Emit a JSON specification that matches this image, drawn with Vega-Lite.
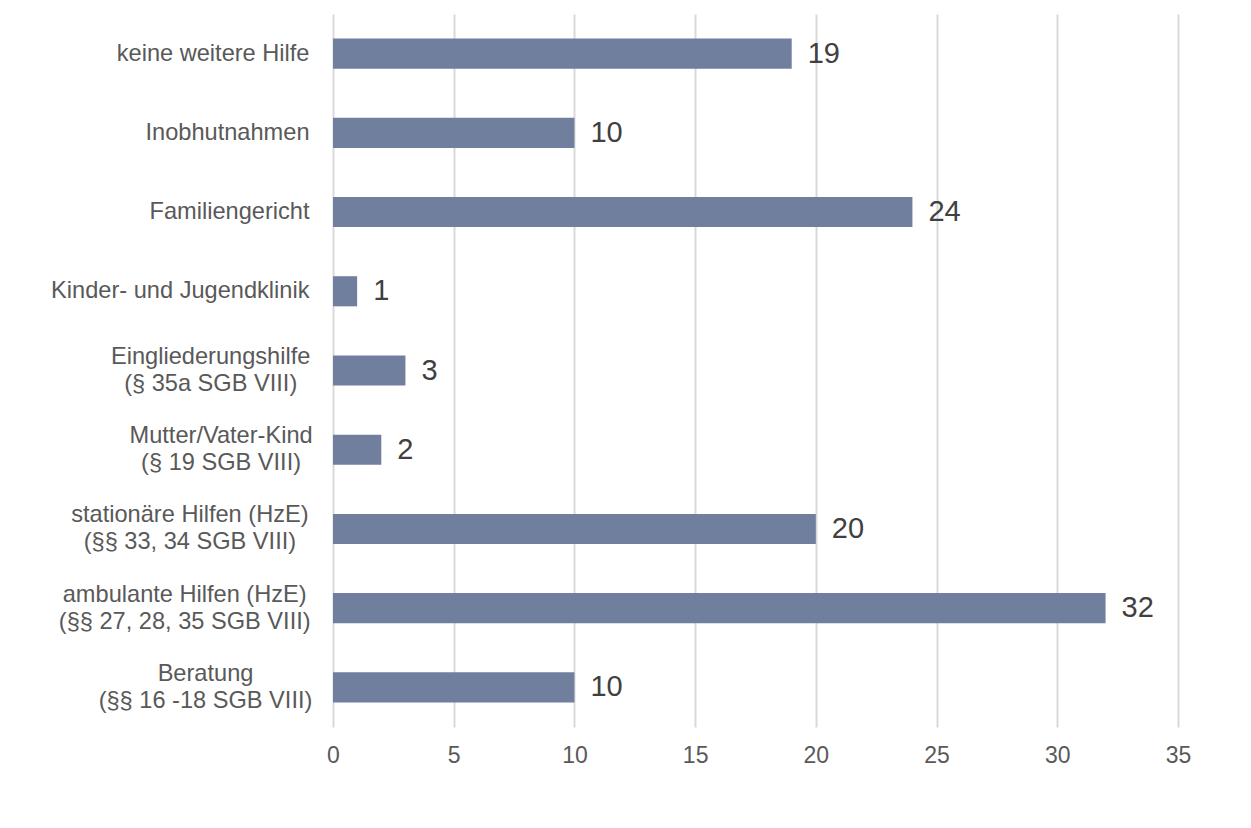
{
  "$schema": "https://vega.github.io/schema/vega-lite/v6.json",
  "autosize": "none",
  "width": 845,
  "height": 713,
  "padding": {"left": 333, "top": 14, "right": 73, "bottom": 101},
  "background": "#ffffff",
  "config": {
    "view": {"stroke": null},
    "font": "Liberation Sans"
  },
  "data": {
    "values": [
      {"hilfe": "keine weitere Hilfe", "anzahl": 19},
      {"hilfe": "Inobhutnahmen", "anzahl": 10},
      {"hilfe": "Familiengericht", "anzahl": 24},
      {"hilfe": "Kinder- und Jugendklinik", "anzahl": 1},
      {"hilfe": "Eingliederungshilfe|(§ 35a SGB VIII)", "anzahl": 3},
      {"hilfe": "Mutter/Vater-Kind|(§ 19 SGB VIII)", "anzahl": 2},
      {"hilfe": "stationäre Hilfen (HzE)|(§§ 33, 34 SGB VIII)", "anzahl": 20},
      {"hilfe": "ambulante Hilfen (HzE)|(§§ 27, 28, 35 SGB VIII)", "anzahl": 32},
      {"hilfe": "Beratung|(§§ 16 -18 SGB VIII)", "anzahl": 10}
    ]
  },
  "encoding": {
    "y": {
      "field": "hilfe",
      "type": "nominal",
      "sort": null,
      "scale": {"paddingInner": 0.62, "paddingOuter": 0.31},
      "axis": {
        "title": null,
        "domain": false,
        "ticks": false,
        "labelExpr": "split(datum.label, '|')",
        "labelFontSize": 23.6,
        "labelLineHeight": 27,
        "labelColor": "#595959",
        "labelLimit": 400,
        "labelAlign": {"expr": "indexof(datum.value, '|') >= 0 ? 'center' : 'right'"},
        "labelPadding": {"expr": "indexof(datum.value, '|') >= 0 ? 24 + 5.2 * max(length(split(datum.value, '|')[0]), length(split(datum.value, '|')[1])) : 24"},
        "labelOffset": {"expr": "indexof(datum.value, '|') >= 0 ? -13.5 : 0"}
      }
    },
    "x": {
      "field": "anzahl",
      "type": "quantitative",
      "scale": {"domain": [0, 35], "nice": false},
      "axis": {
        "title": null,
        "values": [0, 5, 10, 15, 20, 25, 30, 35],
        "domain": false,
        "ticks": false,
        "grid": true,
        "gridColor": "#d9d9d9",
        "gridWidth": 2,
        "labelFlush": false,
        "labelFontSize": 23,
        "labelColor": "#595959",
        "labelPadding": 17
      }
    }
  },
  "layer": [
    {
      "mark": {"type": "bar", "color": "#717f9f"}
    },
    {
      "mark": {
        "type": "text",
        "align": "left",
        "baseline": "middle",
        "dx": 16,
        "fontSize": 29,
        "color": "#404040"
      },
      "encoding": {"text": {"field": "anzahl", "type": "quantitative"}}
    }
  ]
}
